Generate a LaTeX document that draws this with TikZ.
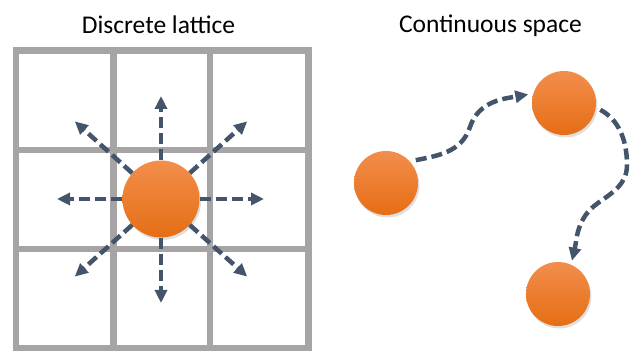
\documentclass[tikz,border=0pt]{standalone}
\usepackage{fontspec}
\setmainfont{Carlito}
\usepackage{xcolor}
\definecolor{ltgrid}{HTML}{A6A4A5}
\definecolor{ltdark}{HTML}{44546A}
\definecolor{lttop}{HTML}{F28E4C}
\definecolor{ltbot}{HTML}{E56E14}
\usetikzlibrary{arrows.meta,calc,shadows}

\begin{document}
\begin{tikzpicture}[x=1pt,y=1pt,>={Triangle[length=13pt,width=12pt]}]
\tikzset{
 ball/.style={circle,minimum size=64pt,inner sep=0pt,top color=lttop,bottom color=ltbot,draw=none,
   drop shadow={shadow xshift=1.5pt,shadow yshift=-2.5pt,opacity=0.25}},
 bigball/.style={ball,minimum size=77pt},
 hop/.style={->,line width=4.5pt,draw=ltdark,dash pattern=on 11pt off 5pt},
 gridline/.style={line width=6.5pt,draw=ltgrid,line cap=rect},
 title/.style={font=\fontsize{25.5}{30}\selectfont,anchor=base}
}
\useasboundingbox (0,0) rectangle (633,352);
% discrete lattice
\foreach \x in {16,113.5,210,308.5} \draw[gridline] (\x,4) -- (\x,301.5);
\foreach \y in {4,103,202,301.5} \draw[gridline] (16,\y) -- (308.5,\y);
\node[title] (ltitle) at (158.5,318.7) {Discrete lattice};
\node[bigball] (site) at (161,153) {};
\foreach \a/\r in {0/103,42/116,90/103,138/116,180/104,222/116,270/104,318/116}{
  \path (site.center) ++(\a:\r) coordinate (tip\a);
  \draw[hop] (site) -- (tip\a);
}
% continuous space
\node[title] (ctitle) at (490.5,319) {Continuous space};
\node[ball] (pa) at (386,169) {};
\node[ball] (pb) at (564,249) {};
\node[ball] (pc) at (558,58) {};
\coordinate (bend1) at (470,225);
\coordinate (bend2) at (627,187);
\coordinate (bend3) at (598,149);
\draw[hop,shorten <=6pt,shorten >=5pt] (pa.42) to[out=12,in=-108] (bend1) to[out=72,in=190] (pb.163);
\draw[hop,shorten <=5pt,shorten >=4pt] (pb.-8) to[out=-28,in=90] (bend2)
  to[out=-90,in=35] (bend3) to[out=-145,in=77] (pc.66);
\end{tikzpicture}
\end{document}
